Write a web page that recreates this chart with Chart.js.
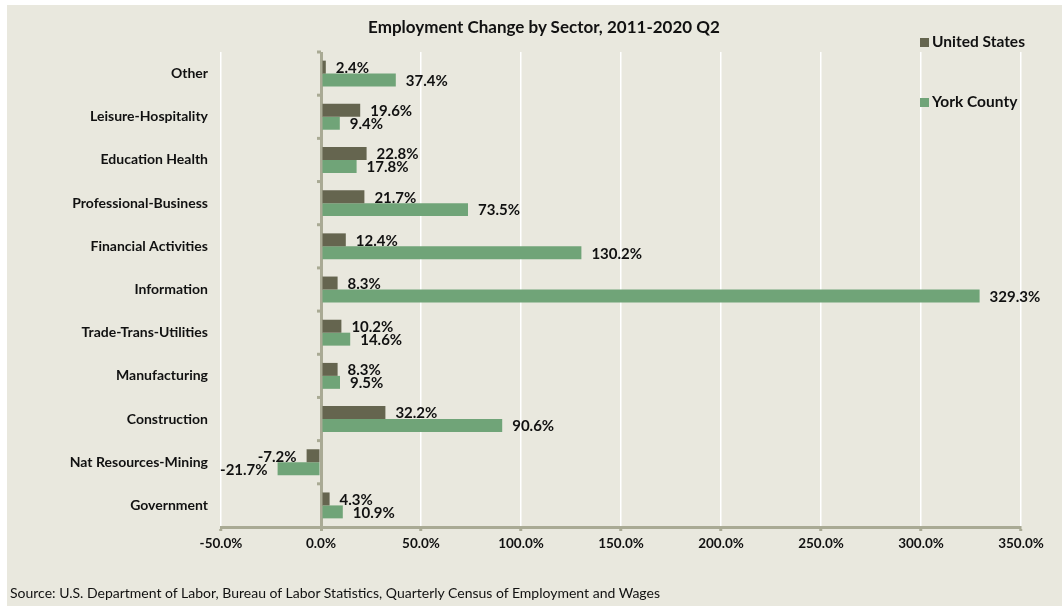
<!DOCTYPE html>
<html lang="en">
<head>
    <meta charset="UTF-8">
    <title>Employment Change by Sector, 2011-2020 Q2</title>
    <script src="https://cdn.jsdelivr.net/npm/chart.js"></script>
    <style>
        body {
            margin: 0;
            background: #ffffff;
            font-family: Lato, "Open Sans", sans-serif;
            color: #111;
        }
        .panel {
            position: absolute;
            left: 7px;
            top: 5px;
            width: 1055px;
            height: 601px;
            background: #e9e8de;
        }
        .title {
            position: absolute;
            left: 0;
            width: 1088px;
            top: 16px;
            text-align: center;
            font-weight: bold;
            font-size: 17px;
        }
        .legend-item {
            position: absolute;
            left: 920px;
            font-weight: bold;
            font-size: 15.5px;
            line-height: 18px;
        }
        .legend-item span {
            display: inline-block;
            width: 9px;
            height: 9px;
            margin-right: 3px;
            vertical-align: 0px;
        }
        .source {
            position: absolute;
            left: 10px;
            top: 584px;
            font-size: 14px;
        }
    </style>
</head>
<body>
    <div class="panel">
        <canvas id="chart" width="1055" height="601"></canvas>
    </div>
    <div class="title">Employment Change by Sector, 2011-2020 Q2</div>
    <div class="legend-item" style="top:32px;"><span style="background:#65654f"></span>United States</div>
    <div class="legend-item" style="top:92px;"><span style="background:#70a478"></span>York County</div>
    <div class="source">Source: U.S. Department of Labor, Bureau of Labor Statistics, Quarterly Census of Employment and Wages</div>

    <script>
        // данные с картинки
        const sectors = ['Other', 'Leisure-Hospitality', 'Education Health', 'Professional-Business',
            'Financial Activities', 'Information', 'Trade-Trans-Utilities', 'Manufacturing',
            'Construction', 'Nat Resources-Mining', 'Government'];
        const unitedStates = [2.4, 19.6, 22.8, 21.7, 12.4, 8.3, 10.2, 8.3, 32.2, -7.2, 4.3];
        const yorkCounty = [37.4, 9.4, 17.8, 73.5, 130.2, 329.3, 14.6, 9.5, 90.6, -21.7, 10.9];
        const xMin = -50, xMax = 350, xStep = 50;

        const axisGrey = '#a9aa94';
        const font = 'Lato, "Open Sans", sans-serif';

        // подписи значений у концов столбцов
        const valueLabels = {
            id: 'valueLabels',
            afterDatasetsDraw(chart) {
                const ctx = chart.ctx;
                ctx.save();
                ctx.font = 'bold 15px ' + font;
                ctx.fillStyle = '#111';
                ctx.textBaseline = 'middle';
                chart.data.datasets.forEach((ds, i) => {
                    chart.getDatasetMeta(i).data.forEach((bar, j) => {
                        const v = ds.data[j];
                        const txt = v.toFixed(1) + '%';
                        if (v >= 0) {
                            ctx.textAlign = 'left';
                            ctx.fillText(txt, bar.x + 10, bar.y + 1);
                        } else {
                            ctx.textAlign = 'right';
                            ctx.fillText(txt, bar.x - 10, bar.y + 1);
                        }
                    });
                });
                ctx.restore();
            }
        };

        // засечки на нулевой линии между категориями
        const zeroNotches = {
            id: 'zeroNotches',
            afterDraw(chart) {
                const ctx = chart.ctx;
                const x0 = chart.scales.x.getPixelForValue(0);
                const area = chart.chartArea;
                const step = (area.bottom - area.top) / sectors.length;
                ctx.save();
                ctx.strokeStyle = axisGrey;
                ctx.lineWidth = 3;
                for (let i = 0; i < sectors.length; i++) {
                    const y = area.top + i * step;
                    ctx.beginPath();
                    ctx.moveTo(x0 - 4, y);
                    ctx.lineTo(x0, y);
                    ctx.stroke();
                }
                ctx.restore();
            }
        };

        new Chart(document.getElementById('chart'), {
            type: 'bar',
            data: {
                labels: sectors,
                datasets: [{
                    label: 'United States',
                    data: unitedStates,
                    backgroundColor: '#65654f'
                }, {
                    label: 'York County',
                    data: yorkCounty,
                    backgroundColor: '#70a478'
                }]
            },
            options: {
                indexAxis: 'y',
                responsive: false,
                animation: false,
                categoryPercentage: 0.6,
                barPercentage: 1,
                layout: {
                    padding: { top: 47, right: 41, left: 0, bottom: 49 }
                },
                plugins: {
                    legend: { display: false },
                    tooltip: { enabled: false }
                },
                scales: {
                    x: {
                        min: xMin,
                        max: xMax,
                        afterFit: s => { s.height = 30; },
                        ticks: {
                            stepSize: xStep,
                            color: '#111',
                            font: { family: font, size: 13.5, weight: 'bold' },
                            padding: 5,
                            maxRotation: 0,
                            callback: v => v.toFixed(1) + '%'
                        },
                        grid: {
                            color: c => (c.tick && c.tick.value === 0) ? axisGrey : '#ffffff',
                            lineWidth: c => (c.tick && c.tick.value === 0) ? 3 : 1.5,
                            tickColor: axisGrey,
                            tickWidth: 3,
                            tickLength: 4
                        },
                        border: { color: axisGrey, width: 3 }
                    },
                    y: {
                        afterFit: s => { s.width = 214; },
                        ticks: {
                            color: '#111',
                            font: { family: font, size: 14, weight: 'bold' },
                            padding: 5
                        },
                        grid: { display: false },
                        border: { display: false }
                    }
                }
            },
            plugins: [valueLabels, zeroNotches]
        });
    </script>
</body>
</html>
